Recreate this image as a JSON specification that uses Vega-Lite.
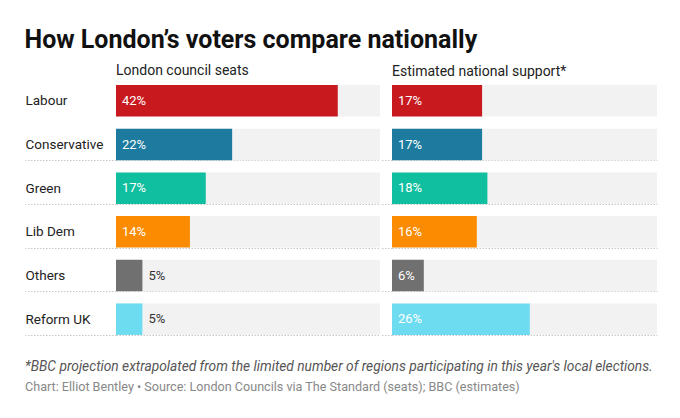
{
  "$schema": "https://vega.github.io/schema/vega-lite/v6.json",
  "background": "white",
  "padding": {"left": 24, "top": 28, "right": 25, "bottom": 16},
  "config": {
    "font": "Roboto",
    "view": {"stroke": null},
    "axis": {"labelFont": "Roboto"}
  },
  "title": {
    "text": "How London’s voters compare nationally",
    "anchor": "start",
    "frame": "bounds",
    "fontSize": 25,
    "fontWeight": "bold",
    "color": "#111111",
    "offset": 11
  },
  "data": {
    "values": [
      {"party": "Labour", "seats": 0.42, "national": 0.17},
      {"party": "Conservative", "seats": 0.22, "national": 0.17},
      {"party": "Green", "seats": 0.17, "national": 0.18},
      {"party": "Lib Dem", "seats": 0.14, "national": 0.16},
      {"party": "Others", "seats": 0.05, "national": 0.06},
      {"party": "Reform UK", "seats": 0.05, "national": 0.26}
    ]
  },
  "vconcat": [
    {
      "hconcat": [
        {
          "width": 264,
          "height": 262,
          "title": {"text": "London council seats", "anchor": "start", "frame": "group", "fontSize": 14, "fontWeight": "normal", "color": "#222222", "offset": -6},
          "encoding": {
            "y": {
              "field": "party",
              "type": "nominal",
              "sort": null,
              "scale": {"paddingInner": 0.28, "paddingOuter": 0.14},
              "axis": {
                "title": null,
                "domain": false,
                "tickBand": "extent",
                "ticks": true,
                "tickSize": 91,
                "tickColor": "#c8c8c8",
                "tickDash": [1.5, 1.5],
                "tickOpacity": {"condition": {"test": "datum.value === 'Labour' || datum.extra", "value": 0}, "value": 1},
                "grid": true,
                "gridColor": "#c8c8c8",
                "gridDash": [1.5, 1.5],
                "gridOpacity": {"condition": {"test": "datum.value === 'Labour' || datum.extra", "value": 0}, "value": 1},
                "labelAlign": "left",
                "labelPadding": 0,
                "labelFontSize": 13.5,
                "labelColor": "#222222"
              }
            }
          },
          "layer": [
            {
              "mark": {"type": "bar", "color": "#f2f2f2"},
              "encoding": {
                "x": {"datum": 0.5, "type": "quantitative", "scale": {"domain": [0, 0.5]}, "axis": null}
              }
            },
            {
              "mark": {"type": "bar"},
              "encoding": {
                "x": {"field": "seats", "type": "quantitative", "scale": {"domain": [0, 0.5]}, "axis": null},
                "color": {
                  "field": "party",
                  "type": "nominal",
                  "legend": null,
                  "scale": {
                    "domain": ["Labour", "Conservative", "Green", "Lib Dem", "Others", "Reform UK"],
                    "range": ["#c8191f", "#1c7b9e", "#10bf9f", "#fb8b00", "#707070", "#6ddcf1"]
                  }
                }
              }
            },
            {
              "transform": [{"filter": "datum.seats >= 0.06"}],
              "mark": {"type": "text", "align": "left", "dx": 6, "fontSize": 13, "color": "white"},
              "encoding": {
                "x": {"datum": 0, "type": "quantitative"},
                "text": {"field": "seats", "type": "quantitative", "format": ".0%"}
              }
            },
            {
              "transform": [{"filter": "datum.seats < 0.06"}],
              "mark": {"type": "text", "align": "left", "dx": 6, "fontSize": 13, "color": "#333333"},
              "encoding": {
                "x": {"field": "seats", "type": "quantitative"},
                "text": {"field": "seats", "type": "quantitative", "format": ".0%"}
              }
            }
          ]
        },
        {
          "width": 265,
          "height": 262,
          "title": {"text": "Estimated national support*", "anchor": "start", "frame": "group", "fontSize": 14, "fontWeight": "normal", "color": "#222222", "offset": 0},
          "encoding": {
            "y": {
              "field": "party",
              "type": "nominal",
              "sort": null,
              "scale": {"paddingInner": 0.28, "paddingOuter": 0.14},
              "axis": {
                "title": null,
                "domain": false,
                "labels": false,
                "tickBand": "extent",
                "ticks": true,
                "tickSize": 11,
                "tickColor": "#c8c8c8",
                "tickDash": [1.5, 1.5],
                "tickOpacity": {"condition": {"test": "datum.value === 'Labour' || datum.extra", "value": 0}, "value": 1},
                "grid": true,
                "gridColor": "#c8c8c8",
                "gridDash": [1.5, 1.5],
                "gridOpacity": {"condition": {"test": "datum.value === 'Labour' || datum.extra", "value": 0}, "value": 1}
              }
            }
          },
          "layer": [
            {
              "mark": {"type": "bar", "color": "#f2f2f2"},
              "encoding": {
                "x": {"datum": 0.5, "type": "quantitative", "scale": {"domain": [0, 0.5]}, "axis": null}
              }
            },
            {
              "mark": {"type": "bar"},
              "encoding": {
                "x": {"field": "national", "type": "quantitative", "scale": {"domain": [0, 0.5]}, "axis": null},
                "color": {
                  "field": "party",
                  "type": "nominal",
                  "legend": null,
                  "scale": {
                    "domain": ["Labour", "Conservative", "Green", "Lib Dem", "Others", "Reform UK"],
                    "range": ["#c8191f", "#1c7b9e", "#10bf9f", "#fb8b00", "#707070", "#6ddcf1"]
                  }
                }
              }
            },
            {
              "transform": [{"filter": "datum.national >= 0.06"}],
              "mark": {"type": "text", "align": "left", "dx": 6, "fontSize": 13, "color": "white"},
              "encoding": {
                "x": {"datum": 0, "type": "quantitative"},
                "text": {"field": "national", "type": "quantitative", "format": ".0%"}
              }
            },
            {
              "transform": [{"filter": "datum.national < 0.06"}],
              "mark": {"type": "text", "align": "left", "dx": 6, "fontSize": 13, "color": "#333333"},
              "encoding": {
                "x": {"field": "national", "type": "quantitative"},
                "text": {"field": "national", "type": "quantitative", "format": ".0%"}
              }
            }
          ]
        }
      ],
      "spacing": 0
    },
    {
      "width": 540,
      "height": 1,
      "data": {"values": [{"note": ""}]},
      "title": {
        "text": "*BBC projection extrapolated from the limited number of regions participating in this year's local elections.",
        "subtitle": "Chart: Elliot Bentley • Source: London Councils via The Standard (seats); BBC (estimates)",
        "anchor": "start",
        "frame": "group",
        "dx": -91,
        "fontSize": 13.75,
        "fontStyle": "italic",
        "fontWeight": "normal",
        "color": "#555555",
        "subtitleFontSize": 12.6,
        "subtitleColor": "#888888",
        "subtitlePadding": 7,
        "offset": 0
      },
      "mark": {"type": "text"},
      "encoding": {"text": {"field": "note"}}
    }
  ],
  "spacing": 19
}
